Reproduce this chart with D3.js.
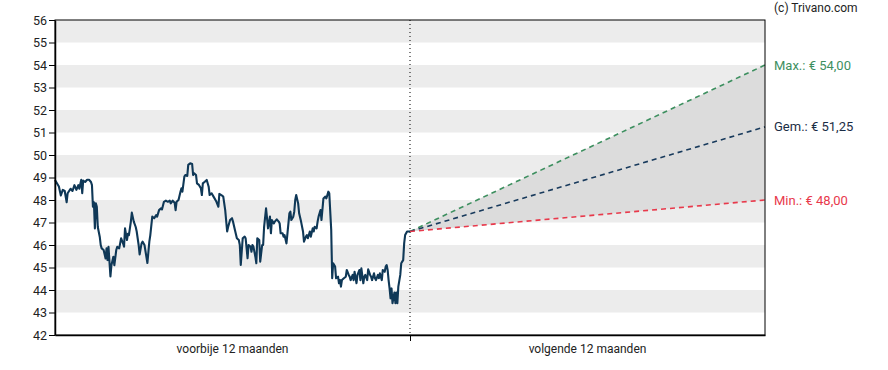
<!DOCTYPE html>
<html>
<head>
<meta charset="utf-8">
<script src="https://cdn.jsdelivr.net/npm/d3@7"></script>
<style>
  body { margin: 0; background: #fff; }
  text { font-family: Roboto, "Noto Sans", sans-serif; }
</style>
</head>
<body>
<div id="chart"></div>
<script>
// koersverloop voorbije 12 maanden (dag na start, koers in euro)
const histDays = [0,4,6,8,10,12,13,16,18,20,22,24,25,27,28,29,31,33,35,37,38,39,40,41,42,43,44,46,47,48,50,52,53,54,55,57,58,60,61,63,64,66,68,70,71,72,74,75,76,78,79,81,83,84,86,87,89,90,92,95,97,98,100,102,104,105,107,109,110,112,114,116,118,119,121,123,124,125,127,129,130,131,133,134,136,137,139,141,142,143,145,146,148,150,151,152,154,156,158,159,161,163,165,166,168,169,171,173,175,177,178,180,182,183,185,187,189,190,191,193,195,196,198,199,201,202,203,204,206,207,208,210,211,213,214,215,217,218,219,221,222,223,225,226,228,230,231,232,234,235,236,238,239,241,242,243,245,246,247,248,250,251,253,255,256,258,259,260,262,263,265,266,267,269,270,271,273,274,276,278,279,281,282,284,285,286,288,289,291,292,293,294,295,297,299,300,302,303,304,306,307,308,310,311,313,314,315,317,318,319,321,322,324,325,326,328,329,330,332,333,334,336,337,339,340,341,342,343,344,345,346,347,349,350,351,352,353,355,356,357,358,359,360,362,363,365];
const histPrices = [48.89,48.6,48.2,48.45,48.4,47.9,48.3,48.5,48.4,48.66,48.45,48.66,48.5,48.9,48.3,48.86,48.8,48.9,48.9,48.8,48.66,47.7,47.9,46.74,47.85,47.7,46.8,46.37,46.0,45.85,45.78,45.4,45.85,45.33,45.92,44.6,45.1,45.48,45.1,45.78,45.92,45.85,46.3,46.07,45.92,46.74,46.22,46.5,46.44,47.04,47.44,47.04,46.8,46.6,46.0,45.58,46.07,46.15,46.0,45.2,46.15,46.44,47.26,47.19,47.33,47.26,47.55,47.63,47.58,47.92,47.97,47.92,47.97,47.85,47.97,47.88,47.55,47.92,48.0,48.37,48.52,48.37,49.04,49.11,49.07,49.56,49.63,49.6,49.11,49.19,49.11,48.74,48.67,48.52,48.22,48.74,48.81,48.89,48.59,48.22,48.3,48.15,48.0,47.92,47.7,48.27,48.22,48.15,47.55,46.6,46.8,47.11,47.19,47.04,46.67,46.3,46.22,46.0,45.11,46.3,46.37,46.3,45.41,46.0,45.93,45.7,46.0,45.93,45.48,45.19,46.3,46.22,45.26,46.0,46.0,46.81,47.63,47.19,46.74,47.26,46.52,47.11,46.96,47.04,47.14,47.04,46.96,46.52,46.52,46.37,46.44,46.07,46.52,47.41,47.48,47.11,47.26,47.48,48.0,48.22,47.85,47.41,47.04,46.6,46.15,46.37,46.44,46.3,46.6,46.37,46.74,46.6,46.81,46.74,47.04,47.26,47.55,47.11,48.07,48.15,48.07,48.37,48.3,46.67,44.52,45.19,45.04,44.52,44.59,44.3,44.44,44.15,44.44,44.52,44.59,44.89,44.67,44.59,44.44,44.67,44.44,44.81,44.3,44.67,44.89,44.44,44.96,44.3,44.59,44.67,44.44,44.92,44.67,44.59,44.44,44.74,44.52,44.44,44.67,44.52,44.74,44.44,44.89,44.81,45.04,45.11,44.89,44.44,44.07,43.63,44.07,43.41,43.89,43.41,43.89,43.41,44.15,44.67,45.19,45.26,45.33,46.07,46.44,46.6,46.6,46.6];

// koersdoelen volgende 12 maanden
const targetNames = ["Max.", "Gem.", "Min."];
const targetValues = [54.00, 51.25, 48.00];
const targetColors = ["#3d8f5f", "#183a5c", "#e8394b"];
const labelColors = ["#3d8f5f", "#1b2d45", "#e8394b"];

const periodLabels = ["voorbije 12 maanden", "volgende 12 maanden"];
const yTicks = [42, 43, 44, 45, 46, 47, 48, 49, 50, 51, 52, 53, 54, 55, 56];

const W = 888, H = 370;
const margin = { top: 20, right: 123, bottom: 35, left: 55 };
const width = W - margin.left - margin.right;
const height = H - margin.top - margin.bottom;

const svg = d3.select("#chart").append("svg")
  .attr("width", W).attr("height", H);
const g = svg.append("g").attr("transform", `translate(${margin.left},${margin.top})`);

const x = d3.scaleLinear().domain([0, 730]).range([0, width]);
const y = d3.scaleLinear().domain([42, 56]).range([height, 0]);

// grijze banden
g.selectAll("rect.band")
  .data(yTicks.filter(v => v % 2 === 1 && v < 56))
  .enter().append("rect")
  .attr("class", "band")
  .attr("x", 0).attr("width", width)
  .attr("y", d => y(d + 1))
  .attr("height", d => y(d) - y(d + 1))
  .attr("fill", "#ececec");

// prognose vlak + lijnen
const lastDay = histDays[histDays.length - 1];
const lastPrice = histPrices[histPrices.length - 1];
const endDay = 730;

g.append("path")
  .attr("d", `M${x(lastDay)},${y(lastPrice)}L${x(endDay)},${y(targetValues[0])}L${x(endDay)},${y(targetValues[2])}Z`)
  .attr("fill", "#dcdcdc");

targetValues.forEach((v, i) => {
  g.append("line")
    .attr("x1", x(lastDay)).attr("y1", y(lastPrice))
    .attr("x2", x(endDay)).attr("y2", y(v))
    .attr("stroke", targetColors[i])
    .attr("stroke-width", 1.6)
    .attr("stroke-dasharray", "5,4");
});

// scheidingslijn vandaag
g.append("line")
  .attr("x1", x(365)).attr("x2", x(365))
  .attr("y1", 0).attr("y2", height)
  .attr("stroke", "#000")
  .attr("stroke-dasharray", "1,3");

// koerslijn
const line = d3.line()
  .x((d, i) => x(histDays[i]))
  .y(d => y(d));
g.append("path")
  .datum(histPrices)
  .attr("d", line)
  .attr("fill", "none")
  .attr("stroke", "#0f3857")
  .attr("stroke-width", 2.1)
  .attr("stroke-linejoin", "round");

// kader
g.append("rect")
  .attr("x", 0).attr("y", 0)
  .attr("width", width).attr("height", height)
  .attr("fill", "none").attr("stroke", "#000").attr("stroke-width", 1);

// y-as
const yAxis = g.append("g")
  .call(d3.axisLeft(y).tickValues(yTicks).tickSize(6).tickSizeOuter(0).tickPadding(2).tickFormat(d3.format("d")));
yAxis.selectAll("text").attr("font-size", 12.5).attr("fill", "#222");
yAxis.select(".domain").attr("stroke-width", 1.5);

// x-as
const xAxis = g.append("g")
  .attr("transform", `translate(0,${height})`)
  .call(d3.axisBottom(x).tickValues([365]).tickSize(6).tickSizeOuter(0).tickFormat(""));
xAxis.select(".domain").attr("stroke-width", 1.5);

g.selectAll("text.period")
  .data(periodLabels)
  .enter().append("text")
  .attr("class", "period")
  .attr("x", (d, i) => x(182.5 + i * 365))
  .attr("y", height + 18)
  .attr("text-anchor", "middle")
  .attr("font-size", 12)
  .attr("fill", "#222")
  .text(d => d);

// labels rechts
const fmt = v => "€ " + v.toFixed(2).replace(".", ",");
g.selectAll("text.target")
  .data(targetValues)
  .enter().append("text")
  .attr("class", "target")
  .attr("x", width + 9)
  .attr("y", d => y(d))
  .attr("dy", "0.35em")
  .attr("font-size", 13)
  .attr("fill", (d, i) => labelColors[i])
  .text((d, i) => targetNames[i] + ": " + fmt(d));

svg.append("text")
  .attr("x", margin.left + width + 9)
  .attr("y", 12)
  .attr("font-size", 12)
  .attr("fill", "#222")
  .text("(c) Trivano.com");
</script>
</body>
</html>
